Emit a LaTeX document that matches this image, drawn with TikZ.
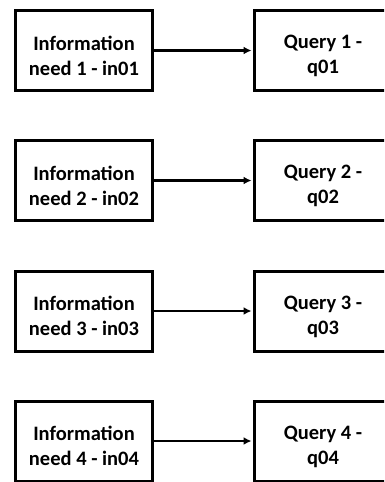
\documentclass[tikz,border=0pt]{standalone}
\usepackage{fontspec}
\setmainfont{Carlito}
\usetikzlibrary{arrows.meta}
\newcommand{\toppad}{\rule{0pt}{25pt}}
\tikzset{
  box/.style={draw=black, line width=3pt, minimum width=137pt, minimum height=80pt,
    inner sep=0pt, align=center, font=\bfseries\fontsize{20.5}{25}\selectfont},
  arr/.style={line width=2.5pt, -{Latex[length=8pt,width=8pt]}, shorten >=1.5pt}
}
\begin{document}
\begin{tikzpicture}[x=1pt,y=-1pt]
\useasboundingbox (0,0) rectangle (384,482);
\clip (0,0) rectangle (384,482);
\node[box] (l1) at (84,50.5) {\toppad Information\\need 1 - in01};
\node[box] (r1) at (323,50.5) {\toppad Query 1 -\\q01};
\node[box] (l2) at (84,180.5) {\toppad Information\\need 2 - in02};
\node[box] (r2) at (323,180.5) {\toppad Query 2 -\\q02};
\node[box] (l3) at (84,311) {\toppad Information\\need 3 - in03};
\node[box] (r3) at (323,311) {\toppad Query 3 -\\q03};
\node[box] (l4) at (84,441) {\toppad Information\\need 4 - in04};
\node[box] (r4) at (323,441) {\toppad Query 4 -\\q04};
\draw[arr] (l1) -- (r1);
\draw[arr] (l2) -- (r2);
\draw[arr] (l3) -- (r3);
\draw[arr] (l4) -- (r4);
\end{tikzpicture}
\end{document}
